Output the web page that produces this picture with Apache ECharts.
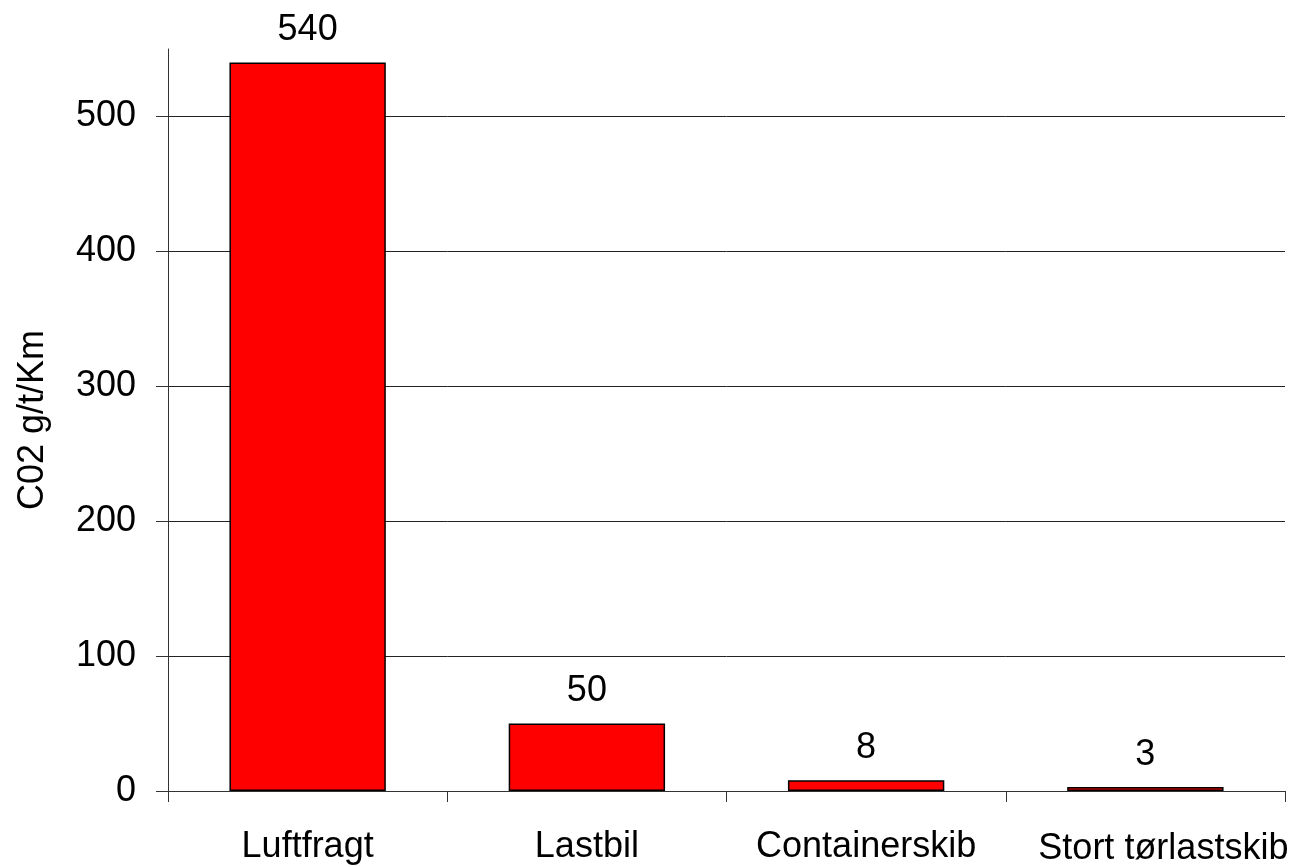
<!DOCTYPE html>
<html>
<head>
<meta charset="utf-8">
<script src="https://cdn.jsdelivr.net/npm/echarts@6/dist/echarts.min.js"></script>
<style>
html,body{margin:0;padding:0;background:#fff;}
#chart{width:1299px;height:867px;}
</style>
</head>
<body>
<div id="chart"></div>
<script>
const categories = ['Luftfragt', 'Lastbil', 'Containerskib', 'Stort tørlastskib'];
const values = [540, 50, 8, 3];
const yTicks = [0, 100, 200, 300, 400, 500];
const yAxisName = 'C02 g/t/Km';

const FONT = '"Liberation Sans", Arial, sans-serif';
const FS = 36;
const chart = echarts.init(document.getElementById('chart'), null, {renderer: 'canvas'});

const catData = categories.map((c, i) => i === categories.length - 1
  ? {value: c, textStyle: {padding: [2, 0, 0, 36]}}
  : c);

chart.setOption({
  animation: false,
  backgroundColor: '#fff',
  grid: {left: 168, right: 14, top: 49, bottom: 75, containLabel: false},
  xAxis: {
    type: 'category',
    data: catData,
    axisLine: {lineStyle: {color: '#333', width: 1}},
    axisTick: {show: true, length: 11, lineStyle: {color: '#333'}},
    axisLabel: {color: '#000', fontSize: FS, fontFamily: FONT, margin: 38, interval: 0},
    splitLine: {show: false}
  },
  yAxis: {
    type: 'value',
    min: 0,
    max: 550,
    interval: 100,
    name: yAxisName,
    nameLocation: 'middle',
    nameGap: 117,
    nameRotate: 90,
    nameTextStyle: {color: '#000', fontSize: FS, fontFamily: FONT},
    axisLine: {show: true, lineStyle: {color: '#333', width: 1}},
    axisTick: {show: true, length: 12, lineStyle: {color: '#333'}, customValues: yTicks},
    axisLabel: {color: '#000', fontSize: FS, fontFamily: FONT, margin: 32, customValues: yTicks},
    splitLine: {show: true, lineStyle: {color: '#222', width: 1}}
  },
  series: [{
    type: 'bar',
    data: values,
    barCategoryGap: '44%',
    itemStyle: {color: '#ff0000', borderColor: '#000', borderWidth: 1.5},
    label: {show: true, position: 'top', distance: 14, color: '#000', fontSize: FS, fontFamily: FONT}
  }]
});
</script>
</body>
</html>
